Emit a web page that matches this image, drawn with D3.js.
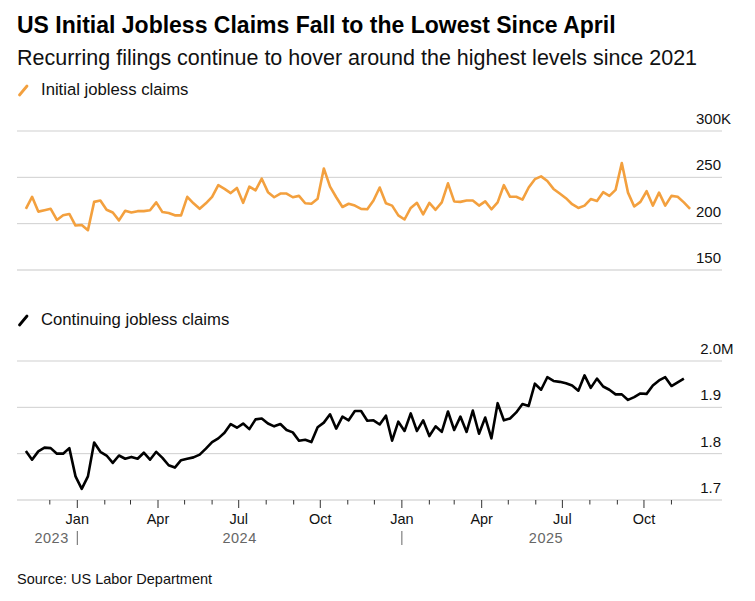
<!DOCTYPE html>
<html>
<head>
<meta charset="utf-8">
<script src="https://cdn.jsdelivr.net/npm/d3@7"></script>
<style>
  body { margin: 0; background: #fff; }
  svg { font-family: "Liberation Sans", Arial, sans-serif; }
  .grid { stroke: #cfcfcf; stroke-width: 1; }
  .base { stroke: #e3e3e3; stroke-width: 2; }
  .ylab { font-size: 15px; fill: #111; }
  .xlab { font-size: 14.5px; fill: #111; }
  .year { font-size: 14.5px; fill: #666; letter-spacing: 0.5px; }
</style>
</head>
<body>
<svg id="chart" width="755" height="601"></svg>
<script>
// weekly data, initial claims start week ending Nov 4 2023
var firstWeek = new Date(2023, 10, 4)

// initial jobless claims, thousands
var initialClaims = [216, 229, 213, 214.5, 216, 204, 209, 210.5, 198, 198.5, 193, 223.5, 225, 215, 212, 203.5, 214, 212, 213.5, 213.5,
  214.5, 223, 212.5, 211.5, 209, 209, 229, 222, 216, 222, 229, 241.5, 237.5, 233, 238.5, 222.5, 240,
  236, 248.5, 234, 228.5, 232.5, 232.5, 228.5, 230, 222, 221.5, 227, 259.5, 240, 228.5, 218, 221.5, 219.5, 216, 215.5, 225,
  239, 222, 219.5, 209, 204.5, 217, 222.5, 210, 222.5, 215, 223, 243.5, 224, 223.5, 225, 225, 219.5,
  224, 215.5, 223, 241.5, 229, 229, 226, 239, 248, 251, 246, 237.5, 232.5, 227.5, 221, 217, 219.5, 226.5, 224.5, 234,
  230, 236.5, 265.5, 233.5, 218.5, 223.5, 235, 219.5, 233.5, 219.5, 230, 229, 223, 216]

// continuing jobless claims, thousands (one week behind)
var continuingClaims = [1806, 1787, 1805, 1813, 1812, 1800, 1800, 1812, 1751, 1724, 1751, 1824, 1804, 1796, 1780, 1796, 1789, 1793, 1789, 1802,
  1787, 1804, 1791, 1775, 1770, 1786, 1789, 1792, 1798, 1811, 1825, 1833, 1845, 1864, 1856, 1865, 1853,
  1874, 1876, 1865, 1859, 1864, 1851, 1846, 1828, 1830, 1825, 1857, 1867, 1885, 1854, 1880, 1872, 1892, 1892, 1871,
  1872, 1863, 1882, 1828, 1869, 1849, 1887, 1849, 1872, 1838, 1859, 1847, 1891, 1851, 1880, 1847, 1893, 1843,
  1878, 1833, 1909, 1872, 1876, 1889, 1907, 1903, 1951, 1938, 1965, 1957, 1955, 1952, 1947, 1936, 1969, 1942, 1962, 1945,
  1938, 1928, 1928, 1916, 1922, 1930, 1929, 1947, 1958, 1965, 1946, 1954, 1962]

var initialTicks = [150, 200, 250, 300]
var continuingTicks = [1700, 1800, 1900, 2000]
var quarterNames = ["Jan", "Apr", "Jul", "Oct"]
var years = ["2023", "2024", "2025"]

var orange = "#f3a03e"
var svg = d3.select("#chart")

var x = d3.scaleTime()
  .domain([new Date(2023, 9, 25), new Date(2025, 11, 28)])
  .range([17, 722])

function weekDate(i) { return d3.timeDay.offset(firstWeek, 7 * i) }

// header
svg.append("text").attr("x", 17).attr("y", 33)
  .style("font-size", "23px").style("font-weight", "bold").attr("fill", "#000")
  .text("US Initial Jobless Claims Fall to the Lowest Since April")
svg.append("text").attr("x", 17).attr("y", 65)
  .style("font-size", "21.5px").attr("fill", "#111")
  .text("Recurring filings continue to hover around the highest levels since 2021")

function legend(y, color, label) {
  svg.append("line").attr("x1", 19.5).attr("y1", y).attr("x2", 27).attr("y2", y - 9)
    .attr("stroke", color).attr("stroke-width", 2.8).attr("stroke-linecap", "round")
  svg.append("text").attr("x", 41).attr("y", y)
    .style("font-size", "16.7px").attr("fill", "#111").text(label)
}
legend(95, orange, "Initial jobless claims")
legend(325, "#000", "Continuing jobless claims")

// one panel = gridlines, right labels, line
function panel(values, ticks, yRange, color, fmt, suffix) {
  var y = d3.scaleLinear().domain([ticks[0], ticks[ticks.length - 1]]).range(yRange)
  var g = svg.append("g")
  g.selectAll(".gl").data(ticks).enter().append("line")
    .attr("class", (d, i) => i == 0 ? "base" : "grid")
    .attr("x1", 17).attr("x2", 722)
    .attr("y1", d => y(d)).attr("y2", d => y(d))
  g.selectAll(".yl").data(ticks).enter().append("text")
    .attr("class", "ylab")
    .attr("x", 721).attr("y", d => y(d) - 7)
    .attr("text-anchor", "end")
    .text(d => fmt(d))
  g.append("text").attr("class", "ylab")
    .attr("x", 721).attr("y", y(ticks[ticks.length - 1]) - 7)
    .text(suffix)

  var line = d3.line()
    .x((d, i) => x(weekDate(i)))
    .y(d => y(d))
  g.append("path").datum(values)
    .attr("fill", "none")
    .attr("stroke", color)
    .attr("stroke-width", 2.6)
    .attr("stroke-linejoin", "round")
    .attr("d", line)
}

panel(initialClaims, initialTicks, [270, 131], orange, d => d, "K")
panel(continuingClaims, continuingTicks, [500, 361], "#000", d => (d / 1000).toFixed(1), "M")

// x axis ticks, monthly
var months = d3.timeMonth.range(new Date(2023, 11, 1), new Date(2025, 11, 1))
svg.selectAll(".tick").data(months).enter().append("line")
  .attr("x1", d => x(d)).attr("x2", d => x(d))
  .attr("y1", 500)
  .attr("y2", d => d.getMonth() % 3 == 0 ? 508 : 504.5)
  .attr("stroke", "#333").attr("stroke-width", 1)

svg.selectAll(".xlab").data(months.filter(d => d.getMonth() % 3 == 0)).enter().append("text")
  .attr("class", "xlab")
  .attr("x", d => x(d)).attr("y", 524)
  .attr("text-anchor", "middle")
  .text(d => quarterNames[d.getMonth() / 3])

// year labels and separators
var lastWeek = weekDate(initialClaims.length - 1)
var yearBounds = [firstWeek, new Date(2024, 0, 1), new Date(2025, 0, 1), lastWeek]
svg.selectAll(".year").data(years).enter().append("text")
  .attr("class", "year")
  .attr("x", (d, i) => (x(yearBounds[i]) + x(yearBounds[i + 1])) / 2)
  .attr("y", 543)
  .attr("text-anchor", "middle")
  .text(d => d)
svg.selectAll(".sep").data(yearBounds.slice(1, 3)).enter().append("line")
  .attr("x1", d => x(d)).attr("x2", d => x(d))
  .attr("y1", 531).attr("y2", 545)
  .attr("stroke", "#666").attr("stroke-width", 1)

svg.append("text").attr("x", 17).attr("y", 584)
  .style("font-size", "14.5px").attr("fill", "#111")
  .text("Source: US Labor Department")
</script>
</body>
</html>
